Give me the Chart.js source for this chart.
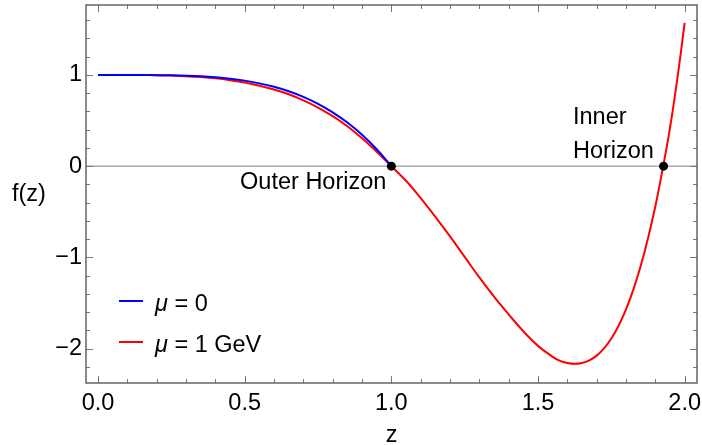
<!DOCTYPE html>
<html><head><meta charset="utf-8">
<script src="https://cdn.jsdelivr.net/npm/chart.js@4/dist/chart.umd.min.js"></script>
<style>html,body{margin:0;padding:0;background:#fff}</style>
</head><body>
<canvas id="c" width="702" height="445" style="width:702px;height:445px;display:block"></canvas>
<script>
// ---- data ----
const zBlue = [0,0.05,0.1,0.15,0.2,0.25,0.3,0.35,0.4,0.45,0.5,0.55,0.6,0.65,0.7,0.75,0.8,0.85,0.9,0.95,1.0];
const fBlue = [1,1,1,0.9995,0.998,0.996,0.992,0.985,0.974,0.959,0.938,0.908,0.870,0.821,0.760,0.684,0.590,0.478,0.344,0.185,0];
const zRed = [0,0.05,0.1,0.15,0.2,0.25,0.3,0.35,0.4,0.45,0.5,0.55,0.6,0.65,0.7,0.75,0.8,0.85,0.9,0.95,1.0,
              1.05,1.1,1.15,1.2,1.25,1.3,1.35,1.4,1.45,1.5,1.55,1.575,1.6,1.625,1.65,1.675,1.7,1.725,1.75,1.775,
              1.8,1.825,1.85,1.875,1.9,1.925,1.95,1.975,2.0];
const fRed = [1,1,1,0.999,0.997,0.993,0.987,0.977,0.963,0.943,0.917,0.882,0.840,0.788,0.722,0.643,0.548,0.437,0.305,0.158,0,
              -0.16,-0.35,-0.555,-0.77,-0.995,-1.22,-1.43,-1.625,-1.81,-1.97,-2.09,-2.135,-2.158,-2.167,-2.158,-2.129,-2.077,-1.998,-1.89,-1.747,
              -1.57,-1.353,-1.095,-0.79,-0.44,-0.03,0.42,0.96,1.57];
const horizonZ = [1.0, 1.928];
const horizonF = [0, 0];
const seriesLabels = ['μ = 0', 'μ = 1 GeV'];
const seriesColors = ['#0000ff', '#ff0000'];
const xTicks = [0, 0.5, 1.0, 1.5, 2.0];
const xTickLabels = ['0.0', '0.5', '1.0', '1.5', '2.0'];
const yTicks = [-2, -1, 0, 1];
const yTickLabels = ['\u22122', '\u22121', '0', '1'];
const xRange = [-0.041, 2.042];
const yRange = [-2.377, 1.767];
const xMinorStep = 0.1, yMinorStep = 0.2;

const FONT = '"Liberation Sans", Arial, sans-serif';
const FS = 23.5;

const pts = (xs, ys) => xs.map((x, i) => ({x, y: ys[i]}));

const decor = {
  id: 'decor',
  beforeDatasetsDraw(chart) {
    const {ctx, chartArea: a, scales: {x, y}} = chart;
    ctx.save();
    ctx.strokeStyle = '#9a9a9a';
    ctx.lineWidth = 1.2;
    const y0 = y.getPixelForValue(0);
    ctx.beginPath(); ctx.moveTo(a.left, y0); ctx.lineTo(a.right, y0); ctx.stroke();
    ctx.restore();
  },
  afterDraw(chart) {
    const {ctx, chartArea: a, scales: {x, y}} = chart;
    ctx.save();
    ctx.strokeStyle = '#777';
    ctx.lineWidth = 1;
    const maj = 7, mnr = 4;
    const nearMajor = (v, arr) => arr.some(t => Math.abs(t - v) < 1e-6);
    for (let v = Math.ceil(xRange[0] / xMinorStep) * xMinorStep; v <= xRange[1] + 1e-9; v += xMinorStep) {
      const vv = Math.round(v * 10) / 10;
      const L = nearMajor(vv, xTicks) ? maj : mnr;
      const px = Math.round(x.getPixelForValue(vv)) + 0.5;
      ctx.beginPath();
      ctx.moveTo(px, a.bottom); ctx.lineTo(px, a.bottom - L);
      ctx.moveTo(px, a.top); ctx.lineTo(px, a.top + L);
      ctx.stroke();
    }
    for (let v = Math.ceil(yRange[0] / yMinorStep) * yMinorStep; v <= yRange[1] + 1e-9; v += yMinorStep) {
      const vv = Math.round(v * 10) / 10;
      const L = nearMajor(vv, yTicks) ? maj : mnr;
      const py = Math.round(y.getPixelForValue(vv)) + 0.5;
      ctx.beginPath();
      ctx.moveTo(a.left, py); ctx.lineTo(a.left + L, py);
      ctx.moveTo(a.right, py); ctx.lineTo(a.right - L, py);
      ctx.stroke();
    }
    ctx.strokeStyle = '#5a5a5a';
    ctx.lineWidth = 1.4;
    ctx.strokeRect(a.left, a.top, a.right - a.left, a.bottom - a.top);

    ctx.fillStyle = '#000';
    ctx.font = FS + 'px ' + FONT;
    ctx.textBaseline = 'alphabetic';
    ctx.textAlign = 'center';
    ctx.fillText('z', (a.left + a.right) / 2, 442);
    ctx.textAlign = 'left';
    ctx.fillText('f(z)', 12, 201);

    const y0 = y.getPixelForValue(0);
    const xo = x.getPixelForValue(horizonZ[0]);
    const xi = x.getPixelForValue(horizonZ[1]);
    ctx.textAlign = 'right';
    ctx.fillText('Outer Horizon', xo - 5, y0 + 22.5);
    ctx.textAlign = 'left';
    ctx.fillText('Inner', xi - 90.6, y0 - 42.4);
    ctx.fillText('Horizon', xi - 90.6, y0 - 8);

    const lgY = [301, 342];
    const lgText = [311, 352.3];
    chart.data.datasets.slice(0, 2).forEach((ds, i) => {
      ctx.strokeStyle = ds.borderColor;
      ctx.lineWidth = 2;
      ctx.beginPath(); ctx.moveTo(119, lgY[i]); ctx.lineTo(143, lgY[i]); ctx.stroke();
      const lbl = ds.label;
      ctx.textAlign = 'left';
      ctx.font = 'italic ' + FS + 'px ' + FONT;
      const mu = lbl.charAt(0);
      ctx.fillText(mu, 155, lgText[i]);
      const w = ctx.measureText(mu).width;
      ctx.font = FS + 'px ' + FONT;
      ctx.fillText(lbl.slice(1), 155 + w, lgText[i]);
    });
    ctx.restore();
  }
};

const zeroPad = s => { s.paddingTop = 0; s.paddingBottom = 0; s.paddingLeft = 0; s.paddingRight = 0; };

new Chart(document.getElementById('c'), {
  type: 'line',
  data: {
    datasets: [
      {label: seriesLabels[0], data: pts(zBlue, fBlue), borderColor: seriesColors[0], borderWidth: 2,
       pointRadius: 0, tension: 0.4, order: 1, fill: false},
      {label: seriesLabels[1], data: pts(zRed, fRed), borderColor: seriesColors[1], borderWidth: 2,
       pointRadius: 0, tension: 0.4, order: 2, fill: false},
      {label: 'horizons', data: pts(horizonZ, horizonF), showLine: false, pointRadius: 4.5,
       pointBackgroundColor: '#000', pointBorderColor: '#000', pointBorderWidth: 0, order: 0}
    ]
  },
  options: {
    responsive: false,
    animation: false,
    devicePixelRatio: 1,
    layout: {padding: {top: 5, right: 5, left: 0, bottom: 0}},
    plugins: {legend: {display: false}, tooltip: {enabled: false}},
    scales: {
      x: {
        type: 'linear', min: xRange[0], max: xRange[1],
        grid: {display: false, drawTicks: false}, border: {display: false},
        afterBuildTicks: s => { s.ticks = xTicks.map(v => ({value: v})); },
        afterFit: s => { s.height = 62; zeroPad(s); },
        ticks: {color: '#000', padding: 6, font: {family: FONT, size: FS}, maxRotation: 0,
                callback: (v, i) => xTickLabels[i]}
      },
      y: {
        type: 'linear', min: yRange[0], max: yRange[1],
        grid: {display: false, drawTicks: false}, border: {display: false},
        afterBuildTicks: s => { s.ticks = yTicks.map(v => ({value: v})); },
        afterFit: s => { s.width = 86; zeroPad(s); },
        ticks: {color: '#000', padding: 4, font: {family: FONT, size: FS},
                callback: (v, i) => yTickLabels[i]}
      }
    }
  },
  plugins: [decor]
});
</script>
</body></html>
